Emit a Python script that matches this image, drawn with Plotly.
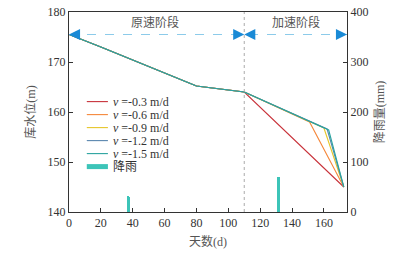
import plotly.graph_objects as go

# ---- data ----
common_days = [0, 20, 80, 110]
common_level = [175.5, 173.0, 165.2, 164.0]
end_day = 172.5
end_level = 145.0

series_names = ["-0.3", "-0.6", "-0.9", "-1.2", "-1.5"]
break_days = [None, 151, 160, 162, 163]
break_levels = [None, 158.0, 156.8, 156.6, 156.4]
series_colors = ["#c8323a", "#f5873a", "#e6c62a", "#5a86ae", "#2aa39f"]

rain_days = [37, 38, 131, 132]
rain_mm = [32, 30, 70, 70]
rain_label = "降雨"
rain_color = "#3cc4b8"

phase_bounds = [0, 110, 174.5]
phase_labels = ["原速阶段", "加速阶段"]
phase_arrow_level = 175.5

serif = "Liberation Serif"
cjk = "Liberation Serif, Noto Sans CJK SC"

fig = go.Figure()

for name, bd, bl, col in zip(series_names, break_days, break_levels, series_colors):
    xs = list(common_days)
    ys = list(common_level)
    if bd is not None:
        xs.append(bd)
        ys.append(bl)
    xs.append(end_day)
    ys.append(end_level)
    fig.add_trace(go.Scatter(
        x=xs, y=ys, mode="lines", line=dict(color=col, width=1.1),
        name=f"<i>v</i> ={name} m/d", showlegend=False))

fig.add_trace(go.Bar(
    x=rain_days, y=rain_mm, yaxis="y2", width=0.8,
    marker=dict(color=rain_color, line=dict(width=0)), name=rain_label,
    showlegend=False))

# phase dashed line
fig.add_trace(go.Scatter(
    x=[phase_bounds[0], phase_bounds[-1]], y=[phase_arrow_level] * 2,
    mode="lines", line=dict(color="#8ccbea", width=1, dash="dash"),
    showlegend=False, hoverinfo="skip"))

# dotted separator
fig.add_trace(go.Scatter(
    x=[phase_bounds[1]] * 2, y=[140, 180], mode="lines",
    line=dict(color="#aaaaaa", width=1, dash="dot"),
    showlegend=False, hoverinfo="skip"))

anns = []
shapes = []
arrow_specs = [(phase_bounds[0], 1), (phase_bounds[1], -1),
               (phase_bounds[1], 1), (phase_bounds[2], -1)]
for xb, d in arrow_specs:
    anns.append(dict(x=xb, y=phase_arrow_level, ax=xb + d * 6, ay=phase_arrow_level,
                     xref="x", yref="y", axref="x", ayref="y", text="",
                     showarrow=True, arrowhead=2, arrowsize=1.7, arrowwidth=1.3,
                     arrowcolor="#1a8ad6", standoff=0))
for i, lab in enumerate(phase_labels):
    anns.append(dict(x=(phase_bounds[i] + phase_bounds[i + 1]) / 2 - (1 if i == 0 else 0),
                     y=178, xref="x", yref="y", text=lab, showarrow=False,
                     font=dict(size=12, color="#555555", family=cjk)))

# ---- compact legend (layout, paper coordinates) ----
leg_x0, leg_x1, leg_tx = 0.064, 0.140, 0.155
leg_top, leg_step = 0.552, 0.065
leg_entries = [(f"<i>v</i> ={n} m/d", c, 1.1) for n, c in zip(series_names, series_colors)]
leg_entries.append((rain_label, rain_color, 5))
for i, (lab, col, w) in enumerate(leg_entries):
    yy = leg_top - i * leg_step
    shapes.append(dict(type="line", xref="paper", yref="paper",
                       x0=leg_x0, x1=leg_x1, y0=yy, y1=yy,
                       line=dict(color=col, width=w)))
    anns.append(dict(x=leg_tx, y=yy, xref="paper", yref="paper", text=lab,
                     showarrow=False, xanchor="left", yanchor="middle", borderpad=0,
                     font=dict(size=12, color="#333", family=cjk)))

axis_common = dict(showline=True, linecolor="#333", linewidth=1, showgrid=False,
                   zeroline=False, ticks="inside", ticklen=4, tickcolor="#333",
                   automargin=False, tickfont=dict(size=12, color="#333", family=serif))

fig.update_layout(
    width=408, height=256,
    margin=dict(l=69, r=61, t=12, b=44),
    paper_bgcolor="white", plot_bgcolor="white",
    font=dict(family=cjk, size=12, color="#333333"),
    showlegend=False,
    annotations=anns,
    shapes=shapes,
    bargap=0,
    xaxis=dict(range=[0, 174.5], tickvals=[0, 20, 40, 60, 80, 100, 120, 140, 160],
               mirror=True,
               title=dict(text="天数(d)", standoff=8,
                          font=dict(size=12, color="#555", family=cjk)),
               **axis_common),
    yaxis=dict(range=[140, 180], tickvals=[140, 150, 160, 170, 180],
               title=dict(text="库水位(m)", standoff=9,
                          font=dict(size=12, color="#555", family=cjk)),
               **axis_common),
    yaxis2=dict(range=[0, 400], tickvals=[0, 100, 200, 300, 400],
                overlaying="y", side="right",
                title=dict(text="降雨量(mm)", standoff=8,
                           font=dict(size=12, color="#555", family=cjk)),
                **axis_common),
)

fig.write_html(
    "out.html",
    config={"displayModeBar": False},
    post_script="document.body.style.margin='0';document.body.style.overflow='hidden';",
)
